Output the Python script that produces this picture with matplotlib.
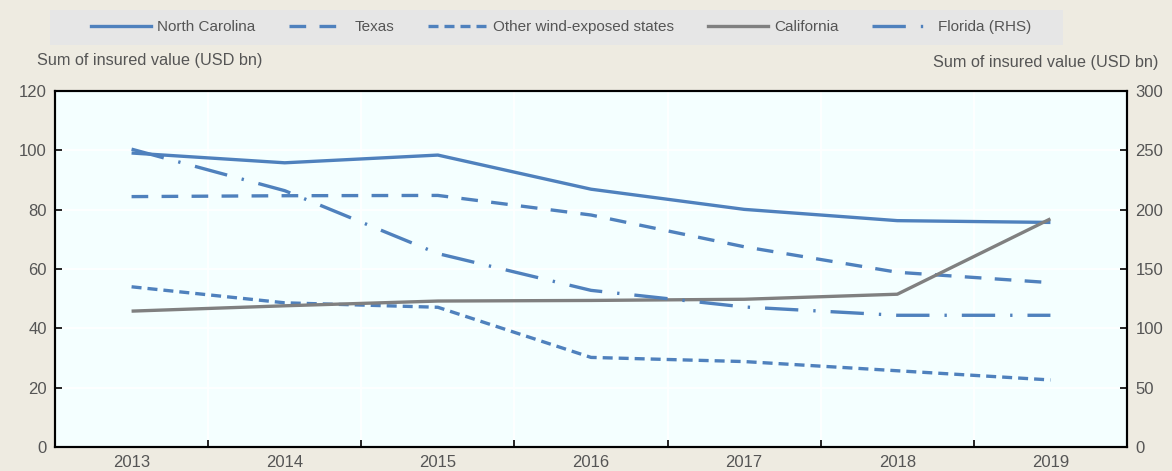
import matplotlib
matplotlib.use('Agg')
import matplotlib.pyplot as plt
import numpy as np
from matplotlib.patches import Rectangle
from matplotlib.lines import Line2D

dpi = 100
plt.rcParams['font.family'] = ['Liberation Sans Narrow', 'Liberation Sans', 'DejaVu Sans']

# Data (USD bn)
years = ['2013', '2014', '2015', '2016', '2017', '2018', '2019']
north_carolina = [99.1, 95.8, 98.4, 86.9, 80.1, 76.3, 75.7]
texas = [84.4, 84.7, 84.8, 78.2, 67.5, 58.9, 55.4]
other_states = [54.0, 48.6, 47.1, 30.2, 28.8, 25.7, 22.6]
california = [45.8, 47.6, 49.2, 49.4, 49.8, 51.5, 76.9]
florida_rhs = [251, 216, 163, 132, 118, 111, 111]

blue = '#4f81bd'
grey = '#808080'
bg = '#eeebe1'
plot_bg = '#f4ffff'
text_col = '#555555'
lw = 2.4

texas_ls = (0, (5, 4))
other_ls = (0, (3, 1.8))
florida_ls = (0, (10, 4.5, 0.7, 4.5))

fig = plt.figure(figsize=(1172/dpi, 471/dpi), dpi=dpi, facecolor=bg)
ax = fig.add_axes([55/1172, 24/471, 1072/1172, 356/471])
ax2 = ax.twinx()
ax.set_facecolor(plot_bg)

x = np.arange(len(years))
ax.plot(x, north_carolina, color=blue, lw=lw, solid_capstyle='butt', zorder=3)
ax.plot(x, texas, color=blue, lw=lw, linestyle=texas_ls, dash_capstyle='butt', zorder=3)
ax.plot(x, other_states, color=blue, lw=lw, linestyle=other_ls, dash_capstyle='butt', zorder=3)
ax.plot(x, california, color=grey, lw=lw, solid_capstyle='butt', zorder=4)
ax2.plot(x, florida_rhs, color=blue, lw=lw, linestyle=florida_ls, dash_capstyle='butt')

ax.set_xlim(-0.5, len(years) - 0.5)
ax.set_ylim(0, 120)
ax.set_yticks(np.arange(0, 121, 20))
ax2.set_ylim(0, 300)
ax2.set_yticks(np.arange(0, 301, 50))

# category ticks between labels, gridlines at boundaries
ax.set_xticks(x)
ax.set_xticklabels(years)
ax.set_xticks(np.arange(0.5, len(years) - 1, 1), minor=True)
ax.tick_params(axis='x', which='major', length=0, pad=6, labelsize=12, labelcolor=text_col)
ax.tick_params(axis='x', which='minor', direction='in', length=5, width=1.2, color='black')
ax.tick_params(axis='y', direction='in', length=5, width=1.2, pad=6, labelsize=12, labelcolor=text_col)
ax2.tick_params(axis='y', direction='in', length=5, width=1.2, pad=6, labelsize=12, labelcolor=text_col)
ax.grid(True, which='minor', axis='x', color='white', lw=1.2)
ax.grid(True, which='major', axis='y', color='white', lw=1.2)
ax.set_axisbelow(True)

for a in (ax, ax2):
    for s in a.spines.values():
        s.set_color('black')
        s.set_linewidth(1.5)

fig.text(37/1172, 1 - 60/471, 'Sum of insured value (USD bn)', fontsize=11.7,
         color=text_col, ha='left', va='center')
fig.text(1158/1172, 1 - 62/471, 'Sum of insured value (USD bn)', fontsize=11.7,
         color=text_col, ha='right', va='center')

# legend box
fig.patches.append(Rectangle((50/1172, 1 - 45/471), 1013/1172, 35/471,
                             transform=fig.transFigure, facecolor='#e6e6e6',
                             edgecolor='none', zorder=0))
handles = [
    Line2D([], [], color=blue, lw=lw),
    Line2D([], [], color=blue, lw=lw, linestyle=texas_ls),
    Line2D([], [], color=blue, lw=lw, linestyle=other_ls),
    Line2D([], [], color=grey, lw=lw),
    Line2D([], [], color=blue, lw=lw, linestyle=florida_ls),
]
labels = ['North Carolina', 'Texas', 'Other wind-exposed states', 'California', 'Florida (RHS)']
leg = fig.legend(handles, labels, loc='center', ncol=5, frameon=False,
                 bbox_to_anchor=(561/1172, 1 - 27/471), fontsize=11,
                 handlelength=3.9, handletextpad=0.4, columnspacing=2.2,
                 labelcolor=text_col)

fig.savefig('out.png', dpi=dpi, facecolor=bg)
